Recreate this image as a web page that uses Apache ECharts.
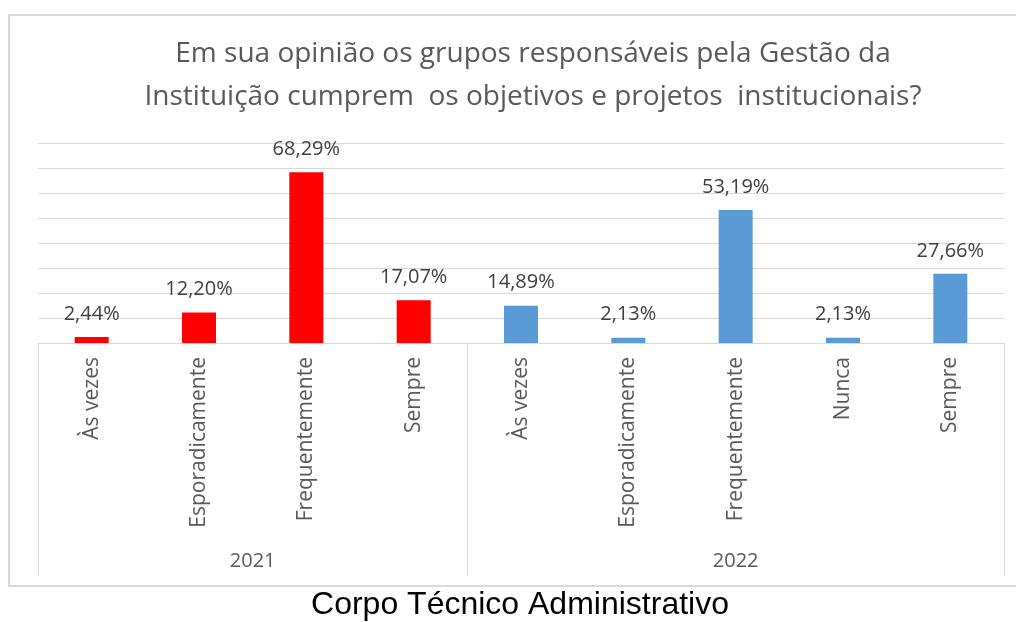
<!DOCTYPE html>
<html>
<head>
<meta charset="utf-8">
<script src="https://cdn.jsdelivr.net/npm/echarts@6/dist/echarts.min.js"></script>
<style>
  html, body { margin: 0; padding: 0; background: #ffffff; }
  #chart { width: 1016px; height: 622px; }
</style>
</head>
<body>
<div id="chart"></div>
<script>
// Survey answers, percentage of respondents per year
const titleLines = [
  'Em sua opinião os grupos responsáveis pela Gestão da',
  'Instituição cumprem  os objetivos e projetos  institucionais?'
];
const captionText = 'Corpo Técnico Administrativo';
const years = ['2021', '2022'];
const categories2021 = ['Às vezes', 'Esporadicamente', 'Frequentemente', 'Sempre'];
const values2021 = [2.44, 12.20, 68.29, 17.07];
const categories2022 = ['Às vezes', 'Esporadicamente', 'Frequentemente', 'Nunca', 'Sempre'];
const values2022 = [14.89, 2.13, 53.19, 2.13, 27.66];
const yMin = 0;
const yMax = 80;
const yStep = 10;

const colors = ['#ff0000', '#5b9bd5'];
const FONT = '"Open Sans", sans-serif';
const GRID_COLOR = '#d9d9d9';

// Flatten both year groups onto one category axis
const groups = [
  { year: years[0], cats: categories2021, vals: values2021, color: colors[0] },
  { year: years[1], cats: categories2022, vals: values2022, color: colors[1] }
];
const allCats = [];
const barData = [];
groups.forEach(g => {
  g.cats.forEach((c, i) => {
    allCats.push(c);
    barData.push({ value: g.vals[i], itemStyle: { color: g.color } });
  });
});

const fmtPct = v => v.toFixed(2).replace('.', ',') + '%';

const chart = echarts.init(document.getElementById('chart'), null, { renderer: 'canvas' });

chart.setOption({
  animation: false,
  backgroundColor: '#ffffff',
  title: {
    text: titleLines.join('\n'),
    left: 528,
    top: 28,
    textAlign: 'center',
    textStyle: {
      fontFamily: FONT,
      fontSize: 28,
      fontWeight: 'normal',
      color: '#595959',
      lineHeight: 43
    }
  },
  grid: { left: 38, right: 12, top: 143, bottom: 279, containLabel: false },
  xAxis: {
    type: 'category',
    data: allCats,
    axisLine: { show: true, lineStyle: { color: GRID_COLOR, width: 1 } },
    axisTick: { show: false },
    axisLabel: {
      rotate: 90,
      margin: 14,
      interval: 0,
      fontFamily: FONT,
      fontSize: 21,
      color: '#595959'
    }
  },
  yAxis: {
    type: 'value',
    min: yMin,
    max: yMax,
    interval: yStep,
    axisLine: { show: false },
    axisTick: { show: false },
    axisLabel: { show: false },
    splitLine: { show: true, lineStyle: { color: GRID_COLOR, width: 1 } }
  },
  series: [{
    type: 'bar',
    data: barData,
    barWidth: 34,
    label: {
      show: true,
      position: 'top',
      distance: 13,
      fontFamily: FONT,
      fontSize: 20,
      color: '#404040',
      formatter: p => fmtPct(p.value)
    }
  }]
});

// Group boxes under the axis with year labels, positioned from the axis scale
function drawGroups() {
  const x0 = chart.convertToPixel({ xAxisIndex: 0 }, 0);
  const x1 = chart.convertToPixel({ xAxisIndex: 0 }, 1);
  const band = x1 - x0;
  const baseY = chart.convertToPixel({ yAxisIndex: 0 }, 0);
  const bottomY = 576;
  const elements = [];
  let start = 0;
  const bounds = [];
  groups.forEach(g => {
    const left = chart.convertToPixel({ xAxisIndex: 0 }, start) - band / 2;
    const right = chart.convertToPixel({ xAxisIndex: 0 }, start + g.cats.length - 1) + band / 2;
    bounds.push(left, right);
    elements.push({
      type: 'text',
      x: (left + right) / 2,
      y: 561,
      style: {
        text: g.year,
        fontFamily: FONT,
        fontSize: 20,
        fill: '#595959',
        align: 'center',
        verticalAlign: 'middle'
      }
    });
    start += g.cats.length;
  });
  const uniq = [...new Set(bounds.map(b => Math.round(b)))];
  uniq.forEach(bx => {
    elements.push({
      type: 'line',
      shape: { x1: bx + 0.5, y1: baseY, x2: bx + 0.5, y2: bottomY },
      style: { stroke: GRID_COLOR, lineWidth: 1 }
    });
  });
  // outer frame of the chart
  elements.push({
    type: 'rect',
    shape: { x: 9, y: 15, width: 1020, height: 571 },
    style: { fill: null, stroke: '#d9d9d9', lineWidth: 2 }
  });
  // caption under the frame
  elements.push({
    type: 'text',
    x: 520,
    y: 605,
    style: {
      text: captionText,
      fontFamily: '"Liberation Sans", Arial, sans-serif',
      fontSize: 32,
      fill: '#000000',
      align: 'center',
      verticalAlign: 'middle'
    }
  });
  chart.setOption({ graphic: { elements } });
}
drawGroups();
</script>
</body>
</html>
